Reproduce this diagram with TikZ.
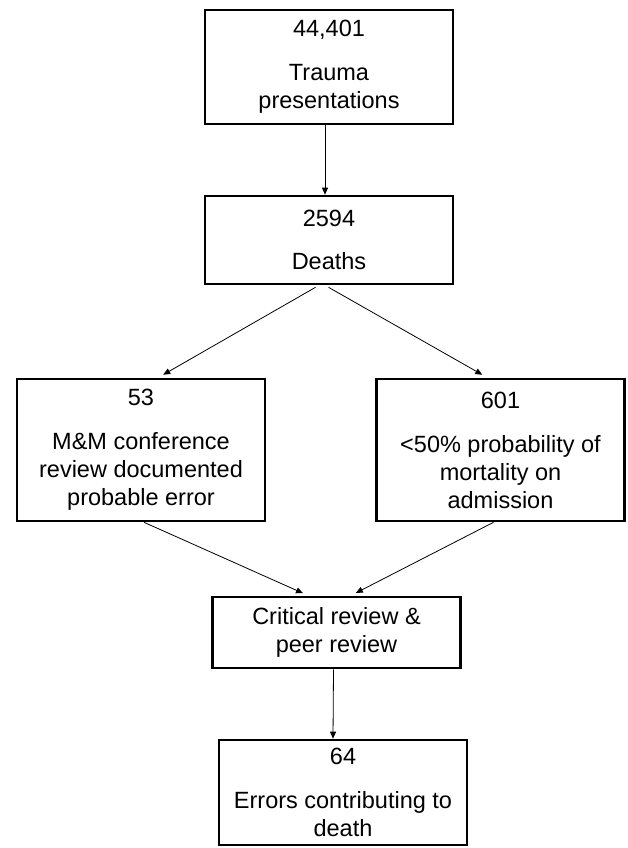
\documentclass[tikz,border=0pt]{standalone}
\usepackage{fontspec}
\setmainfont{Liberation Sans}
\usetikzlibrary{arrows.meta}

\tikzset{
    flowbox/.style={draw, line width=2.6pt, rectangle, align=center, inner sep=0pt,
        minimum width=248pt, font=\fontsize{23.5}{28}\selectfont},
    flowarrow/.style={line width=0.8pt, -{Triangle[length=7pt,width=6pt]}}
}

\begin{document}
\begin{tikzpicture}[x=1pt, y=-1pt]
    \useasboundingbox (0,0) rectangle (627,848);
    \node[flowbox, minimum height=114pt] (trauma) at (329,67) {44,401\\[16pt]Trauma\\presentations};
    \node[flowbox, minimum height=88pt] (deaths) at (329,240) {2594\\[15pt]Deaths};
    \node[flowbox, minimum height=142pt] (mm) at (141,450) {53\\[16pt]M\&M conference\\review documented\\probable error};
    \node[flowbox, minimum height=142pt] (prob) at (500.5,450) {601\\[16pt]<50\% probability of\\mortality on\\admission};
    \node[flowbox, minimum height=71pt] (critical) at (336.5,632.5) {Critical review \&\\peer review};
    \node[flowbox, minimum height=105pt] (errors) at (343,792.5) {64\\[16pt]Errors contributing to\\death};

    \draw[flowarrow] ([xshift=-4pt]trauma.south) -- ([xshift=-4pt]deaths.north);
    \draw[flowarrow, shorten <=4pt, shorten >=6pt] ([xshift=-10pt]deaths.south) -- ([xshift=17pt]mm.north);
    \draw[flowarrow, shorten <=4pt, shorten >=6pt] ([xshift=-4pt]deaths.south) -- ([xshift=-13pt]prob.north);
    \draw[flowarrow, shorten >=6pt] ([xshift=3pt]mm.south) -- ([xshift=-28pt]critical.north);
    \draw[flowarrow, shorten >=6pt] ([xshift=-7pt]prob.south) -- ([xshift=14pt]critical.north);
    \draw[flowarrow] ([xshift=-3pt]critical.south) -- ([xshift=-10pt]errors.north);
\end{tikzpicture}
\end{document}
